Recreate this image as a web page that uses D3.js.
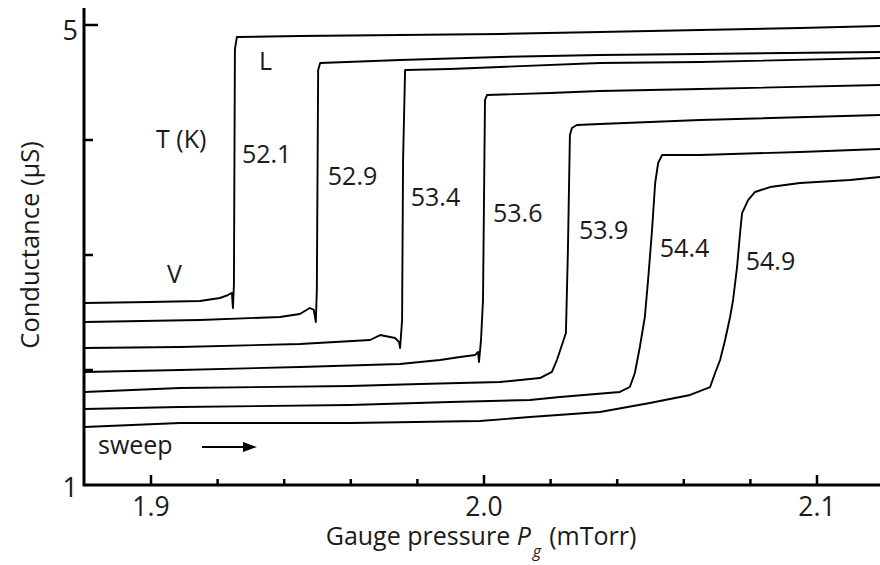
<!DOCTYPE html>
<html>
<head>
<meta charset="utf-8">
<script src="https://cdn.jsdelivr.net/npm/d3@7"></script>
<style>
  html, body { margin: 0; padding: 0; background: #fff; }
  svg { display: block; font-family: "Open Sans", "Noto Sans", sans-serif; }
</style>
</head>
<body>
<svg id="chart" width="880" height="565"></svg>
<script>
// Temperatures (K) of each sweep, left to right
const temps = ["52.1", "52.9", "53.4", "53.6", "53.9", "54.4", "54.9"];

// [gauge pressure (mTorr), conductance (uS)]
const trace521 = [
  [1.880, 2.583], [1.8997, 2.591], [1.9147, 2.600], [1.9207, 2.626], [1.9231, 2.652],
  [1.9243, 2.670], [1.9246, 2.539], [1.9249, 2.739], [1.9252, 4.791], [1.9258, 4.896],
  [1.9447, 4.904], [1.9748, 4.913], [2.0048, 4.922], [2.0348, 4.939], [2.0649, 4.957],
  [2.0949, 4.974], [2.1189, 4.991]
];
const trace529 = [
  [1.880, 2.417], [1.9147, 2.435], [1.9387, 2.461], [1.9447, 2.487], [1.9477, 2.539],
  [1.9489, 2.522], [1.9495, 2.417], [1.9498, 2.696], [1.9502, 4.609], [1.9508, 4.670],
  [1.9748, 4.696], [2.0048, 4.722], [2.0348, 4.739], [2.0649, 4.748], [2.1189, 4.765]
];
const trace534 = [
  [1.880, 2.191], [1.9087, 2.200], [1.9447, 2.226], [1.9658, 2.261], [1.9688, 2.304],
  [1.9733, 2.278], [1.9745, 2.243], [1.9748, 2.191], [1.9754, 2.435], [1.9757, 3.826],
  [1.9763, 4.609], [1.9898, 4.617], [2.0048, 4.635], [2.0348, 4.670], [2.0649, 4.678],
  [2.1189, 4.713]
];
const trace536 = [
  [1.880, 1.983], [1.9087, 2.000], [1.9447, 2.026], [1.9748, 2.052], [1.9868, 2.087],
  [1.9928, 2.113], [1.9973, 2.130], [1.9982, 2.157], [1.9985, 2.070], [1.9991, 2.261],
  [1.9997, 2.609], [2.0003, 4.348], [2.0009, 4.391], [2.0198, 4.409], [2.0348, 4.426],
  [2.0649, 4.443], [2.1189, 4.478]
];
const trace539 = [
  [1.880, 1.809], [1.9087, 1.843], [1.9598, 1.861], [1.9808, 1.878], [2.0048, 1.896],
  [2.0168, 1.930], [2.0204, 1.983], [2.0219, 2.087], [2.0234, 2.217], [2.0246, 2.322],
  [2.0252, 3.043], [2.0258, 4.043], [2.0264, 4.104], [2.0279, 4.130], [2.0348, 4.139],
  [2.0649, 4.174], [2.1189, 4.217]
];
const trace544 = [
  [1.880, 1.661], [1.9087, 1.678], [1.9598, 1.696], [1.9898, 1.722], [2.0138, 1.739],
  [2.0228, 1.765], [2.0408, 1.809], [2.0438, 1.852], [2.0453, 1.974], [2.0468, 2.200],
  [2.0483, 2.461], [2.0492, 2.757], [2.0504, 3.191], [2.0514, 3.626], [2.0523, 3.800],
  [2.0535, 3.870], [2.0649, 3.870], [2.0949, 3.896], [2.1189, 3.922]
];
const trace549 = [
  [1.880, 1.504], [1.9087, 1.539], [1.9598, 1.539], [1.9988, 1.557], [2.0138, 1.591],
  [2.0348, 1.635], [2.0498, 1.713], [2.0619, 1.783], [2.0679, 1.852], [2.0694, 1.974],
  [2.0709, 2.087], [2.0724, 2.261], [2.0739, 2.461], [2.0748, 2.609], [2.0760, 2.896],
  [2.0769, 3.191], [2.0775, 3.365], [2.0793, 3.478], [2.0814, 3.548], [2.0859, 3.591],
  [2.0949, 3.626], [2.1099, 3.652], [2.1189, 3.678]
];
const traces = [trace521, trace529, trace534, trace536, trace539, trace544, trace549];

// where each temperature label sits, [pressure, conductance]
const tempLabelPos = [
  [1.9273, 3.80], [1.9531, 3.61], [1.9780, 3.43], [2.0027, 3.29],
  [2.0285, 3.14], [2.0528, 2.98], [2.0786, 2.87]
];

const xTicksMajor = [1.9, 2.0, 2.1];
const xTicksMinor = [1.92, 1.94, 1.96, 1.98, 2.02, 2.04, 2.06, 2.08];
const yTicks = [2, 3, 4, 5];
const yTickLabels = [1, 5];

const svg = d3.select("#chart");
const ink = "#1a1a1a";

// Plot frame
const plotLeft = 84, plotRight = 880, plotTop = 8, plotBottom = 485;

const x = d3.scaleLinear().domain([1.9, 2.1]).range([151, 817]);
const y = d3.scaleLinear().domain([1, 5]).range([485, 25]);

svg.append("defs")
  .append("clipPath")
  .attr("id", "plotClip")
  .append("rect")
  .attr("x", plotLeft)
  .attr("y", plotTop)
  .attr("width", plotRight - plotLeft)
  .attr("height", plotBottom - plotTop);

// Traces
const line = d3.line().x((d) => x(d[0])).y((d) => y(d[1]));

svg.append("g")
  .attr("clip-path", "url(#plotClip)")
  .selectAll("path")
  .data(traces)
  .enter()
  .append("path")
  .attr("d", line)
  .attr("fill", "none")
  .attr("stroke", "#000")
  .attr("stroke-width", 1.9)
  .attr("stroke-linejoin", "round");

// Axes: spines with inward ticks
svg.append("path")
  .attr("d", `M${plotLeft},${plotTop}V${plotBottom}H${plotRight}`)
  .attr("fill", "none")
  .attr("stroke", "#000")
  .attr("stroke-width", 3);

svg.append("g")
  .selectAll("line")
  .data(yTicks)
  .enter()
  .append("line")
  .attr("x1", plotLeft)
  .attr("x2", (d) => (d === 5 ? plotLeft + 14 : plotLeft + 9))
  .attr("y1", (d) => y(d))
  .attr("y2", (d) => y(d))
  .attr("stroke", "#000")
  .attr("stroke-width", 2.5);

svg.append("g")
  .selectAll("line")
  .data(xTicksMajor.concat(xTicksMinor))
  .enter()
  .append("line")
  .attr("x1", (d) => x(d))
  .attr("x2", (d) => x(d))
  .attr("y1", plotBottom)
  .attr("y2", (d) => (xTicksMajor.includes(d) ? plotBottom - 10 : plotBottom - 6))
  .attr("stroke", "#000")
  .attr("stroke-width", 2.5);

// Tick labels
svg.append("g")
  .selectAll("text")
  .data(xTicksMajor)
  .enter()
  .append("text")
  .attr("x", (d) => x(d))
  .attr("y", 516)
  .attr("text-anchor", "middle")
  .attr("font-size", 26.5)
  .attr("fill", ink)
  .text((d) => d.toFixed(1));

svg.append("g")
  .selectAll("text")
  .data(yTickLabels)
  .enter()
  .append("text")
  .attr("x", 78)
  .attr("y", (d) => (d === 5 ? 40 : 497))
  .attr("text-anchor", "end")
  .attr("font-size", 27)
  .attr("fill", ink)
  .text((d) => d);

// Axis titles
const xTitle = svg.append("text")
  .attr("x", 481)
  .attr("y", 545)
  .attr("text-anchor", "middle")
  .attr("font-size", 25)
  .attr("fill", ink);
xTitle.append("tspan").text("Gauge pressure ");
xTitle.append("tspan").attr("font-style", "italic").text("P");
xTitle.append("tspan").attr("font-size", 16).attr("font-style", "italic").attr("dx", 2).attr("dy", 12).text("g");
xTitle.append("tspan").attr("dx", 8).attr("dy", -12).text("(mTorr)");

svg.append("text")
  .attr("transform", "translate(39,245) rotate(-90)")
  .attr("text-anchor", "middle")
  .attr("font-size", 25.5)
  .attr("fill", ink)
  .text("Conductance (\u03BCS)");

// Annotations
svg.append("g")
  .selectAll("text")
  .data(temps)
  .enter()
  .append("text")
  .attr("x", (d, i) => x(tempLabelPos[i][0]))
  .attr("y", (d, i) => y(tempLabelPos[i][1]))
  .attr("font-size", 25)
  .attr("fill", ink)
  .text((d) => d);

const note = (txt, px, py) =>
  svg.append("text")
    .attr("x", px)
    .attr("y", py)
    .attr("font-size", 25)
    .attr("fill", ink)
    .text(txt);

note("T (K)", 156, 148);
note("L", 259, 70);
note("V", 167, 283);
note("sweep", 98, 454);

// sweep arrow
svg.append("line")
  .attr("x1", 202).attr("x2", 246)
  .attr("y1", 447).attr("y2", 447)
  .attr("stroke", "#000")
  .attr("stroke-width", 2);
svg.append("path")
  .attr("d", "M257,447L243,442L243,452Z")
  .attr("fill", "#000");
</script>
</body>
</html>
